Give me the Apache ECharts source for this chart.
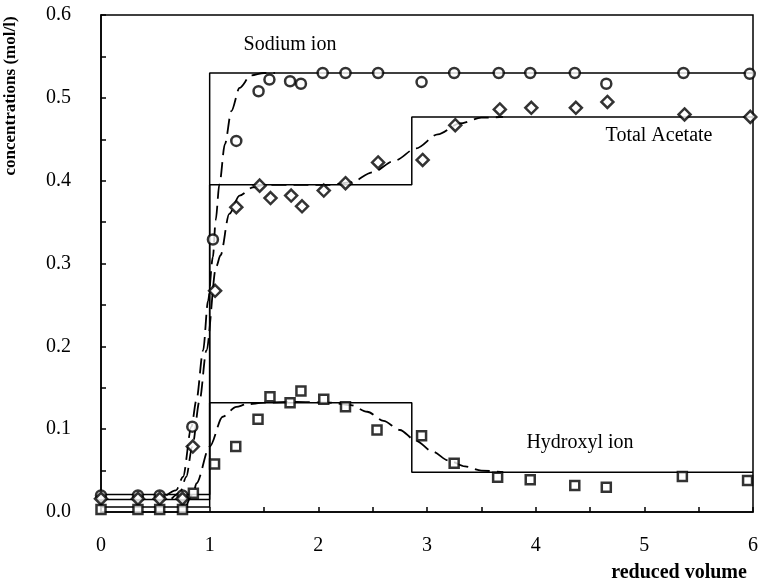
<!DOCTYPE html>
<html>
<head>
<meta charset="utf-8">
<script src="https://cdn.jsdelivr.net/npm/echarts@6/dist/echarts.min.js"></script>
<style>
  html, body { margin: 0; padding: 0; background: #fff; }
  #chart { width: 761px; height: 582px; }
</style>
</head>
<body>
<div id="chart"></div>
<script>
// measured points [reduced volume, concentration]
var sodiumPoints = [
  [0, 0.02], [0.34, 0.02], [0.54, 0.02], [0.75, 0.02], [0.84, 0.103], [1.03, 0.329],
  [1.245, 0.448], [1.45, 0.508], [1.55, 0.522], [1.74, 0.52], [1.84, 0.517], [2.04, 0.53],
  [2.25, 0.53], [2.55, 0.53], [2.95, 0.519], [3.25, 0.53], [3.66, 0.53], [3.95, 0.53],
  [4.36, 0.53], [4.65, 0.517], [5.36, 0.53], [5.97, 0.529]
];
var acetatePoints = [
  [0, 0.016], [0.34, 0.016], [0.54, 0.016], [0.75, 0.016], [0.845, 0.079], [1.05, 0.267],
  [1.245, 0.368], [1.46, 0.394], [1.56, 0.379], [1.75, 0.382], [1.85, 0.369], [2.05, 0.388],
  [2.25, 0.397], [2.55, 0.422], [2.96, 0.425], [3.26, 0.467], [3.67, 0.486], [3.96, 0.488],
  [4.37, 0.488], [4.66, 0.495], [5.37, 0.48], [5.975, 0.477]
];
var hydroxylPoints = [
  [0, 0.003], [0.34, 0.003], [0.54, 0.003], [0.75, 0.003], [0.85, 0.0225], [1.045, 0.058],
  [1.24, 0.079], [1.445, 0.112], [1.555, 0.139], [1.74, 0.132], [1.84, 0.146], [2.05, 0.136],
  [2.25, 0.127], [2.54, 0.099], [2.95, 0.092], [3.25, 0.059], [3.65, 0.042], [3.95, 0.039],
  [4.36, 0.032], [4.65, 0.030], [5.35, 0.043], [5.95, 0.038]
];

// ideal (step) profiles
var sodiumStep = [[0, 0.021], [1, 0.53], [6, 0.53]];
var acetateStep = [[0, 0.015], [1, 0.395], [2.86, 0.477], [6, 0.477]];
var hydroxylStep = [[0, 0.006], [1, 0.132], [2.86, 0.048], [6, 0.048]];

// model curves (dashed)
var sodiumModel = [
  [0.6, 0.02], [0.69, 0.026], [0.755, 0.0425], [0.832, 0.103], [0.878, 0.135], [0.94, 0.195],
  [0.985, 0.255], [1.03, 0.308], [1.055, 0.352], [1.09, 0.396], [1.14, 0.444], [1.2, 0.484],
  [1.275, 0.512], [1.38, 0.527], [1.5, 0.53], [1.6, 0.53]
];
var acetateModel = [
  [0.65, 0.016], [0.725, 0.023], [0.785, 0.0425], [0.84, 0.079], [0.908, 0.135], [0.97, 0.195],
  [1.06, 0.296], [1.1, 0.31], [1.18, 0.36], [1.275, 0.382], [1.4, 0.392], [1.5, 0.395],
  [1.8, 0.395], [2.1, 0.395], [2.3, 0.398], [2.5, 0.41], [2.7, 0.424], [2.9, 0.439],
  [3.1, 0.456], [3.3, 0.469], [3.5, 0.476], [3.7, 0.477]
];
var hydroxylModel = [
  [0.78, 0.005], [0.85, 0.0225], [0.878, 0.0345], [1.0, 0.079], [1.12, 0.115], [1.245, 0.127],
  [1.34, 0.13], [1.5, 0.132], [1.8, 0.133], [2.1, 0.132], [2.3, 0.129], [2.45, 0.121],
  [2.6, 0.11], [2.75, 0.099], [2.9, 0.086], [3.05, 0.073], [3.2, 0.062], [3.35, 0.055],
  [3.5, 0.05], [3.7, 0.048]
];

var serif = 'Liberation Serif';

function stepSeries(data) {
  return {
    type: 'line', data: data, step: 'end', symbol: 'none', silent: true,
    lineStyle: { color: '#000', width: 1.5 }, z: 2
  };
}
function modelSeries(data) {
  return {
    type: 'line', data: data, smooth: 0.3, smoothMonotone: 'x', symbol: 'none', silent: true,
    lineStyle: { color: '#000', width: 1.8, type: [15, 7] }, z: 3
  };
}
function pointSeries(data, symbol, size) {
  return {
    type: 'scatter', data: data, symbol: symbol, symbolSize: size, z: 4,
    itemStyle: { color: '#fff', borderColor: '#000', borderWidth: 2.5 }
  };
}

var chart = echarts.init(document.getElementById('chart'));
chart.setOption({
  animation: false,
  backgroundColor: '#fff',
  grid: { left: 101, right: 6, top: 15, bottom: 70, show: true, borderColor: '#000', borderWidth: 1.5 },
  xAxis: {
    type: 'value', min: 0, max: 6, interval: 1,
    axisLine: { lineStyle: { color: '#000', width: 1.5 } },
    axisTick: { inside: true, length: 5, lineStyle: { color: '#000', width: 1.5 } },
    minorTick: { show: true, splitNumber: 2, length: 5, lineStyle: { color: '#000', width: 1.5 } },
    splitLine: { show: false },
    axisLabel: { color: '#000', fontFamily: serif, fontSize: 20, margin: 24 }
  },
  yAxis: {
    type: 'value', min: 0, max: 0.6, interval: 0.1,
    axisLine: { show: true, lineStyle: { color: '#000', width: 1.5 } },
    axisTick: { show: true, inside: true, length: 5, lineStyle: { color: '#000', width: 1.5 } },
    minorTick: { show: true, splitNumber: 2, length: 5, lineStyle: { color: '#000', width: 1.5 } },
    splitLine: { show: false },
    axisLabel: {
      color: '#000', fontFamily: serif, fontSize: 20, margin: 30,
      formatter: function (v) { return v.toFixed(1); }
    }
  },
  graphic: [
    { type: 'text', x: 11, y: 96, rotation: Math.PI / 2,
      style: { text: 'concentrations (mol/l)', fill: '#000', font: 'bold 17px "Liberation Serif"',
        textAlign: 'center', textVerticalAlign: 'middle' } },
    { type: 'text', x: 679, y: 573,
      style: { text: 'reduced volume', fill: '#000', font: 'bold 20px "Liberation Serif"',
        textAlign: 'center', textVerticalAlign: 'middle' } },
    { type: 'text', x: 290, y: 45,
      style: { text: 'Sodium ion', fill: '#000', font: '20px "Liberation Serif"',
        textAlign: 'center', textVerticalAlign: 'middle' } },
    { type: 'text', x: 659, y: 136,
      style: { text: 'Total Acetate', fill: '#000', font: '20px "Liberation Serif"',
        textAlign: 'center', textVerticalAlign: 'middle' } },
    { type: 'text', x: 580, y: 443,
      style: { text: 'Hydroxyl ion', fill: '#000', font: '20px "Liberation Serif"',
        textAlign: 'center', textVerticalAlign: 'middle' } }
  ],
  series: [
    stepSeries(sodiumStep),
    stepSeries(acetateStep),
    stepSeries(hydroxylStep),
    modelSeries(sodiumModel),
    modelSeries(acetateModel),
    modelSeries(hydroxylModel),
    pointSeries(sodiumPoints, 'circle', 10),
    pointSeries(acetatePoints, 'diamond', 12),
    pointSeries(hydroxylPoints, 'rect', 9)
  ]
});
window.onresize = chart.resize;
</script>
</body>
</html>
